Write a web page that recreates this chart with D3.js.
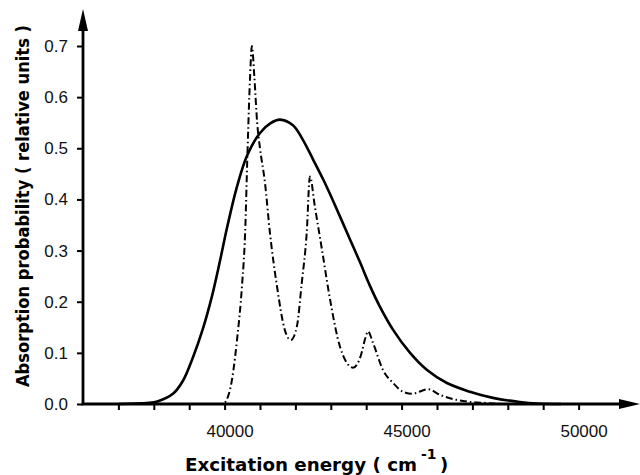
<!DOCTYPE html>
<html>
<head>
<meta charset="utf-8">
<script src="https://cdn.jsdelivr.net/npm/d3@7"></script>
<style>
  body { margin: 0; background: #fff; }
  .axis text { font-family: 'Liberation Sans', Arial, sans-serif; font-size: 17px; fill: #111; }
  .axis line { stroke: #000; stroke-width: 2; }
</style>
</head>
<body>
<div id="chart"></div>
<script>
// data
const solidEnergy = [37000, 37800, 38100, 38540, 38820, 39110, 39390, 39640, 39870, 40070, 40350, 40630, 41000, 41300, 41565, 41930, 42200, 42500, 42800, 43060, 43540, 43820, 44100, 44390, 44760, 45240, 45710, 46280, 46930, 47580, 48340, 48830, 49500]
const solidValue = [0, 0.002, 0.005, 0.02, 0.045, 0.092, 0.148, 0.21, 0.28, 0.345, 0.425, 0.485, 0.53, 0.549, 0.556, 0.545, 0.518, 0.478, 0.437, 0.398, 0.322, 0.278, 0.232, 0.19, 0.145, 0.1, 0.067, 0.041, 0.024, 0.012, 0.004, 0.001, 0]

const dashEnergy = [37700, 39950, 40150, 40350, 40490, 40580, 40650, 40720, 40770, 40840, 40920, 41000, 41140, 41280, 41480, 41700, 41870, 42040, 42180, 42320, 42410, 42550, 42750, 42980, 43260, 43630, 43850, 43980, 44050, 44190, 44470, 44760, 45040, 45290, 45750, 46080, 46560, 46930, 47400, 47800]
const dashValue = [0, 0, 0.027, 0.125, 0.23, 0.335, 0.5, 0.64, 0.7, 0.64, 0.55, 0.5, 0.433, 0.335, 0.23, 0.145, 0.125, 0.151, 0.237, 0.335, 0.445, 0.386, 0.302, 0.204, 0.112, 0.071, 0.095, 0.13, 0.142, 0.12, 0.067, 0.041, 0.024, 0.02, 0.029, 0.018, 0.008, 0.004, 0.002, 0]

const xTicks = d3.range(37000, 50001, 1000)
const xLabelled = [40000, 45000, 50000]
const yTicks = [0, 0.1, 0.2, 0.3, 0.4, 0.5, 0.6, 0.7]

const width = 640
const height = 475

const xScale = d3.scaleLinear().domain([36000, 37000]).range([83, 118.4])
const yScale = d3.scaleLinear().domain([0, 0.7]).range([404, 46])

const svg = d3.select('#chart').append('svg').attr('width', width).attr('height', height)

// curves
const solid = solidEnergy.map((e, i) => [e, solidValue[i]])
const dash = dashEnergy.map((e, i) => [e, dashValue[i]])

const line = d3
  .line()
  .x((d) => xScale(d[0]))
  .y((d) => yScale(d[1]))
  .curve(d3.curveMonotoneX)

svg.append('path').datum(dash).attr('d', line).attr('fill', 'none').attr('stroke', '#000')
  .attr('stroke-width', 2).attr('stroke-dasharray', '7,3,1.5,3')

svg.append('path').datum(solid).attr('d', line.curve(d3.curveCatmullRom.alpha(0.5))).attr('fill', 'none').attr('stroke', '#000')
  .attr('stroke-width', 2.6).attr('stroke-linejoin', 'round')

// axes
const xAxis = d3.axisBottom(xScale).tickValues(xTicks).tickSize(6).tickPadding(15)
  .tickFormat((d) => (xLabelled.includes(d) ? d : ''))
const xg = svg.append('g').attr('class', 'axis').attr('transform', `translate(0,${yScale(0)})`).call(xAxis)
xg.select('.domain').remove()
xg.selectAll('text').attr('dx', 5)

const yAxis = d3.axisLeft(yScale).tickValues(yTicks).tickSize(6).tickPadding(9).tickFormat(d3.format('.1f'))
const yg = svg.append('g').attr('class', 'axis').attr('transform', `translate(${xScale(36000)},0)`).call(yAxis)
yg.select('.domain').remove()

const x0 = xScale(36000)
const y0 = yScale(0)
svg.append('line').attr('x1', x0 - 1.4).attr('x2', 624).attr('y1', y0).attr('y2', y0).attr('stroke', '#000').attr('stroke-width', 2.8)
svg.append('line').attr('x1', x0).attr('x2', x0).attr('y1', y0).attr('y2', 26).attr('stroke', '#000').attr('stroke-width', 2.8)
svg.append('path').attr('d', `M640,${y0} L619,${y0 - 5} L619,${y0 + 5} Z`).attr('fill', '#000')
svg.append('path').attr('d', `M${x0},9 L${x0 - 5},31 L${x0 + 5},31 Z`).attr('fill', '#000')

// axis titles
svg.append('text')
  .attr('transform', 'translate(29,206) rotate(-90)')
  .attr('text-anchor', 'middle')
  .attr('textLength', 362)
  .attr('lengthAdjust', 'spacingAndGlyphs')
  .style('font-family', "'DejaVu Sans', sans-serif")
  .style('font-weight', 'bold')
  .style('font-size', '17px')
  .text('Absorption probability ( relative units )')

const xt = svg.append('text')
  .attr('y', 471)
  .style('font-family', "'DejaVu Sans', sans-serif")
  .style('font-weight', 'bold')
  .style('font-size', '18px')
xt.append('tspan').attr('x', 185).attr('textLength', 232).attr('lengthAdjust', 'spacingAndGlyphs').text('Excitation energy ( cm')
xt.append('tspan').attr('x', 421).attr('y', 459).style('font-size', '14px').text('-1')
xt.append('tspan').attr('x', 440).attr('y', 471).text(')')
</script>
</body>
</html>
